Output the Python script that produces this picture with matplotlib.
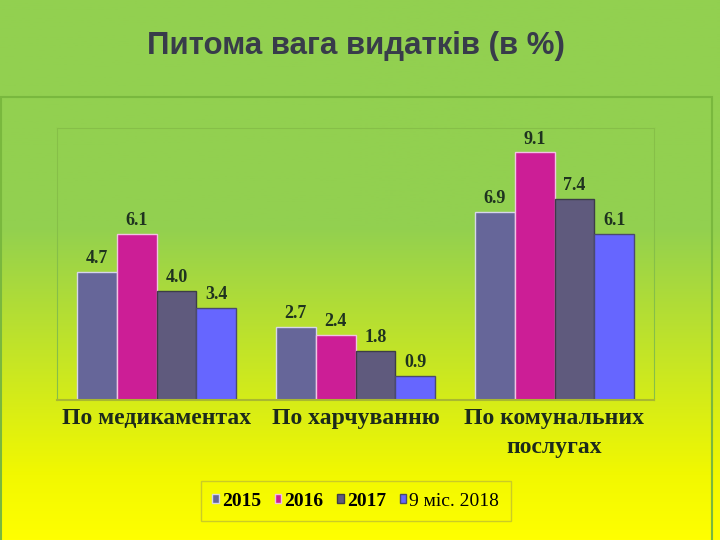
import numpy as np
import matplotlib
matplotlib.use('Agg')
import matplotlib.pyplot as plt
from matplotlib.colors import LinearSegmentedColormap
from matplotlib.patches import Rectangle

categories = ['По медикаментах', 'По харчуванню', 'По комунальних\nпослугах']
series_names = ['2015', '2016', '2017', '9 міс. 2018']
v2015 = [4.7, 2.7, 6.9]
v2016 = [6.1, 2.4, 9.1]
v2017 = [4.0, 1.8, 7.4]
v2018 = [3.4, 0.9, 6.1]

colors = ['#666699', '#cc1e96', '#5f5a7d', '#6666ff']
edges = ['#d6d6ea', '#f2c2e2', '#3c3c48', '#4a4a70']

fig = plt.figure(figsize=(7.2, 5.4), dpi=100)

# фон: зелений -> жовтий
bg = fig.add_axes([0, 0, 1, 1], zorder=-10)
cmap = LinearSegmentedColormap.from_list(
    'bg', [(0.0, '#92d050'), (0.42, '#92d050'), (0.88, '#f2f800'), (1.0, '#ffff00')])
grad = np.linspace(0, 1, 256).reshape(-1, 1)
bg.imshow(grad, aspect='auto', cmap=cmap, extent=[0, 1, 0, 1], origin='upper')
bg.set_axis_off()

# рамка області діаграми
fig.patches.append(Rectangle((0.001, -0.05), 711 / 720, (540 - 97) / 540 + 0.05,
                             transform=fig.transFigure, fill=False,
                             edgecolor='#79b83e', lw=1.5))

fig.text(0.494, 0.915, 'Питома вага видатків (в %)', ha='center', va='center',
         fontsize=22.5, fontweight='bold', family='Liberation Sans', color='#383c4a')

ax = fig.add_axes([57 / 720, 140 / 540, 597 / 720, 272 / 540])
ax.patch.set_alpha(0)

x = np.arange(len(categories))
w = 0.2
series = [v2015, v2016, v2017, v2018]
bars = []
for i, vals in enumerate(series):
    b = ax.bar(x + (i - 1.5) * w, vals, w, color=colors[i], edgecolor=edges[i],
               linewidth=1, label=series_names[i])
    bars.append(b)
    for xi, v in zip(x + (i - 1.5) * w, vals):
        ax.text(xi, v + 0.18, f'{v:.1f}', ha='center', va='bottom', fontsize=13,
                fontweight='bold', family='Liberation Serif', color='#1f331f')

ax.set_xlim(-0.5, 2.5)
ax.set_ylim(0, 10)
ax.set_yticks([])
ax.set_xticks(x)
ax.set_xticklabels(categories, fontsize=17, fontweight='bold', family='Liberation Serif',
                   color='#1c2a1c', linespacing=1.45, va='top')
ax.tick_params(axis='x', length=0, pad=6)
for s in ['left', 'top', 'right']:
    ax.spines[s].set_color('#86bf48')
ax.spines['bottom'].set_color('#a9b830')
ax.spines['bottom'].set_linewidth(1.5)

leg = fig.legend(handles=bars, labels=series_names, loc='center', ncol=4,
                 bbox_to_anchor=(0.494, 0.072), frameon=True, fancybox=False,
                 handlelength=0.35, handleheight=0.35, handletextpad=0.15,
                 columnspacing=0.7, borderpad=0.6,
                 prop={'family': 'Liberation Serif', 'size': 14, 'weight': 'bold'})
leg.get_frame().set_edgecolor('#c0c030')
leg.get_frame().set_facecolor('none')
leg.get_texts()[3].set_fontweight('normal')

fig.savefig('out.png', dpi=100)
